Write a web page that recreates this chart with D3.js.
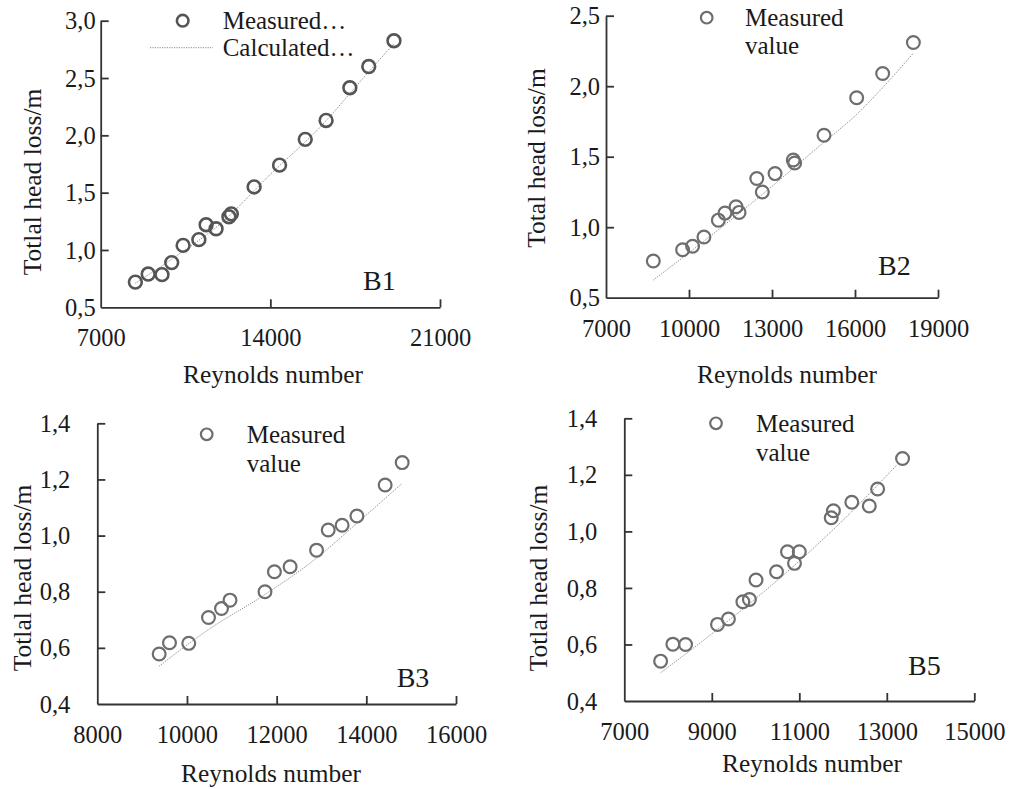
<!DOCTYPE html>
<html>
<head>
<meta charset="utf-8">
<script src="https://cdn.jsdelivr.net/npm/d3@7"></script>
<style>
  html, body { margin: 0; padding: 0; background: #fff; }
  svg { display: block; }
  text { font-family: "Liberation Serif", "Times New Roman", Tinos, serif; fill: #1a1a1a; }
</style>
</head>
<body>
<svg id="chart" width="1012" height="789"></svg>
<script>
// ---------------- DATA ----------------
// B1
const b1Re       = [8430, 8960, 9530, 9930, 10400, 11050, 11350, 11760, 12290, 12390, 13330, 14380, 15440, 16300, 17280, 18060, 19100];
const b1Measured = [0.72, 0.79, 0.785, 0.89, 1.04, 1.09, 1.22, 1.185, 1.29, 1.315, 1.55, 1.74, 1.965, 2.13, 2.415, 2.60, 2.825];
const b1CalcRe   = [8430, 10000, 12000, 14000, 16000, 18000, 19100];
const b1Calc     = [0.71, 0.93, 1.24, 1.66, 2.06, 2.54, 2.80];
const b1XTicks   = [7000, 14000, 21000];
const b1YTicks   = [0.5, 1.0, 1.5, 2.0, 2.5, 3.0];

// B2
const b2Re       = [8710, 9770, 10130, 10540, 11060, 11300, 11700, 11810, 12450, 12650, 13110, 13770, 13820, 14880, 16060, 17000, 18110];
const b2Measured = [0.76, 0.84, 0.865, 0.93, 1.05, 1.10, 1.145, 1.105, 1.345, 1.25, 1.38, 1.477, 1.455, 1.652, 1.918, 2.09, 2.31];
const b2CalcRe   = [8710, 10400, 12570, 14860, 16060, 17000, 18110];
const b2Calc     = [0.625, 0.88, 1.22, 1.60, 1.80, 1.99, 2.235];
const b2XTicks   = [7000, 10000, 13000, 16000, 19000];
const b2YTicks   = [0.5, 1.0, 1.5, 2.0, 2.5];

// B3
const b3Re       = [9380, 9610, 10040, 10480, 10770, 10960, 11740, 11950, 12300, 12890, 13150, 13460, 13790, 14420, 14800];
const b3Measured = [0.578, 0.618, 0.616, 0.708, 0.74, 0.77, 0.80, 0.871, 0.889, 0.948, 1.02, 1.037, 1.07, 1.18, 1.26];
const b3CalcRe   = [9380, 10480, 11740, 12890, 13790, 14800];
const b3Calc     = [0.535, 0.665, 0.79, 0.92, 1.044, 1.186];
const b3XTicks   = [8000, 10000, 12000, 14000, 16000];
const b3YTicks   = [0.4, 0.6, 0.8, 1.0, 1.2, 1.4];

// B5
const b5Re       = [7830, 8110, 8400, 9130, 9380, 9710, 9860, 10010, 10480, 10730, 10890, 11000, 11730, 11780, 12200, 12600, 12790, 13360];
const b5Measured = [0.541, 0.601, 0.60, 0.671, 0.69, 0.751, 0.759, 0.828, 0.857, 0.928, 0.887, 0.928, 1.048, 1.073, 1.103, 1.09, 1.15, 1.258];
const b5CalcRe   = [7830, 9110, 11020, 12160, 13230];
const b5Calc     = [0.50, 0.651, 0.898, 1.064, 1.235];
const b5XTicks   = [7000, 9000, 11000, 13000, 15000];
const b5YTicks   = [0.4, 0.6, 0.8, 1.0, 1.2, 1.4];

// Texts
const xTitle = "Reynolds number";
const yTitleA = "Totlal head loss/m";
const yTitleB = "Total head loss/m";

// ---------------- LAYOUT ----------------
const panels = [
  { name: "B1", re: b1Re, meas: b1Measured, cre: b1CalcRe, calc: b1Calc, xt: b1XTicks, yt: b1YTicks,
    L: 100.7, R: 440, T: 20.7, B: 307.3, ygap: 5, ytitle: yTitleA, ytx: 41, yty: 182, xtx: 273, xty: 383,
    lbl: [363, 290], ring: "#555", ringW: 2.6,
    legend: { cx: 182.7, cy: 20.7, tx: 222.7, l1: "Measured\u2026", b1: 29, l2: "Calculated\u2026", b2: 56, line: [150, 213, 47.7] } },
  { name: "B2", re: b2Re, meas: b2Measured, cre: b2CalcRe, calc: b2Calc, xt: b2XTicks, yt: b2YTicks,
    L: 606, R: 938, T: 15.7, B: 297.7, ygap: 6, ytitle: yTitleB, ytx: 545, yty: 158, xtx: 787, xty: 383,
    lbl: [878, 275], ring: "#6e6e6e", ringW: 2.2,
    legend: { cx: 706.7, cy: 17.7, tx: 745, l1: "Measured", b1: 26, l2: "value", b2: 54 } },
  { name: "B3", re: b3Re, meas: b3Measured, cre: b3CalcRe, calc: b3Calc, xt: b3XTicks, yt: b3YTicks,
    L: 97.3, R: 456, T: 423.3, B: 704, ygap: 27, ytitle: yTitleA, ytx: 31, yty: 578, xtx: 271, xty: 782,
    lbl: [396.7, 687], ring: "#6e6e6e", ringW: 2.2,
    legend: { cx: 206.7, cy: 434.3, tx: 246.7, l1: "Measured", b1: 443, l2: "value", b2: 471.5 } },
  { name: "B5", re: b5Re, meas: b5Measured, cre: b5CalcRe, calc: b5Calc, xt: b5XTicks, yt: b5YTicks,
    L: 624.3, R: 974.3, T: 418.3, B: 701, ygap: 27, ytitle: yTitleA, ytx: 547, yty: 578, xtx: 812, xty: 772,
    lbl: [908, 675], ring: "#6e6e6e", ringW: 2.2,
    legend: { cx: 716, cy: 423.3, tx: 756, l1: "Measured", b1: 432, l2: "value", b2: 461 } }
];

const svg = d3.select("#chart");
const fmtY = d => d3.format(".1f")(d).replace(".", ",");
const FONT = '"Liberation Serif", "Times New Roman", Tinos, serif';

panels.forEach(p => {
  const x = d3.scaleLinear().domain([p.xt[0], p.xt[p.xt.length - 1]]).range([p.L, p.R]);
  const y = d3.scaleLinear().domain([p.yt[0], p.yt[p.yt.length - 1]]).range([p.B, p.T]);
  const g = svg.append("g");

  // x axis (ticks pointing inward / up)
  const xa = g.append("g").attr("transform", `translate(0,${p.B})`)
    .call(d3.axisBottom(x).tickValues(p.xt).tickSize(0).tickSizeOuter(0).tickFormat(d3.format("d")).tickPadding(0));
  xa.attr("font-family", FONT);
  xa.select(".domain").attr("stroke", "#333").attr("stroke-width", 1.8);
  xa.selectAll(".tick line").remove();
  xa.selectAll(".tick").filter((d, i) => i > 0).append("line")
    .attr("y1", 0).attr("y2", -8).attr("stroke", "#333").attr("stroke-width", 1.8);
  xa.selectAll(".tick text").attr("font-size", 24.5).attr("dy", null).attr("y", 39)
    .style("font-family", FONT).attr("fill", "#1a1a1a");

  // y axis (ticks pointing inward / right)
  const ya = g.append("g").attr("transform", `translate(${p.L},0)`)
    .call(d3.axisLeft(y).tickValues(p.yt).tickSize(0).tickSizeOuter(0).tickFormat(fmtY).tickPadding(p.ygap));
  ya.attr("font-family", FONT);
  ya.select(".domain").attr("stroke", "#333").attr("stroke-width", 1.8);
  ya.selectAll(".tick line").remove();
  ya.selectAll(".tick").filter((d, i) => i > 0).append("line")
    .attr("x1", 0).attr("x2", 8).attr("stroke", "#333").attr("stroke-width", 1.8);
  ya.selectAll(".tick text").attr("font-size", 24.5).attr("dy", "0.33em")
    .style("font-family", FONT).attr("fill", "#1a1a1a");

  // axis titles
  g.append("text").attr("x", p.xtx).attr("y", p.xty).attr("text-anchor", "middle")
    .attr("font-size", 25.4).text(xTitle);
  g.append("text").attr("transform", `translate(${p.ytx},${p.yty}) rotate(-90)`)
    .attr("text-anchor", "middle").attr("font-size", 25.5).text(p.ytitle);

  // calculated line
  const line = d3.line().x((d, i) => x(p.cre[i])).y(d => y(d)).curve(d3.curveMonotoneX);
  g.append("path").datum(p.calc).attr("d", line).attr("fill", "none")
    .attr("stroke", "#8a8a8a").attr("stroke-width", 1).attr("stroke-dasharray", "1.2,1.2");

  // measured points
  g.selectAll("circle.m").data(p.meas).enter().append("circle").attr("class", "m")
    .attr("cx", (d, i) => x(p.re[i])).attr("cy", d => y(d)).attr("r", 6.4)
    .attr("fill", "none").attr("stroke", p.ring).attr("stroke-width", p.ringW);

  // panel label
  g.append("text").attr("x", p.lbl[0]).attr("y", p.lbl[1]).attr("font-size", 28).text(p.name);

  // legend
  const lg = p.legend;
  g.append("circle").attr("cx", lg.cx).attr("cy", lg.cy).attr("r", 5.8)
    .attr("fill", "none").attr("stroke", p.ring).attr("stroke-width", p.ringW);
  g.append("text").attr("x", lg.tx).attr("y", lg.b1).attr("font-size", 25).text(lg.l1);
  g.append("text").attr("x", lg.tx).attr("y", lg.b2).attr("font-size", 25).text(lg.l2);
  if (lg.line) {
    g.append("line").attr("x1", lg.line[0]).attr("x2", lg.line[1]).attr("y1", lg.line[2]).attr("y2", lg.line[2])
      .attr("stroke", "#8a8a8a").attr("stroke-width", 1).attr("stroke-dasharray", "1.2,1.2");
  }
});
</script>
</body>
</html>
